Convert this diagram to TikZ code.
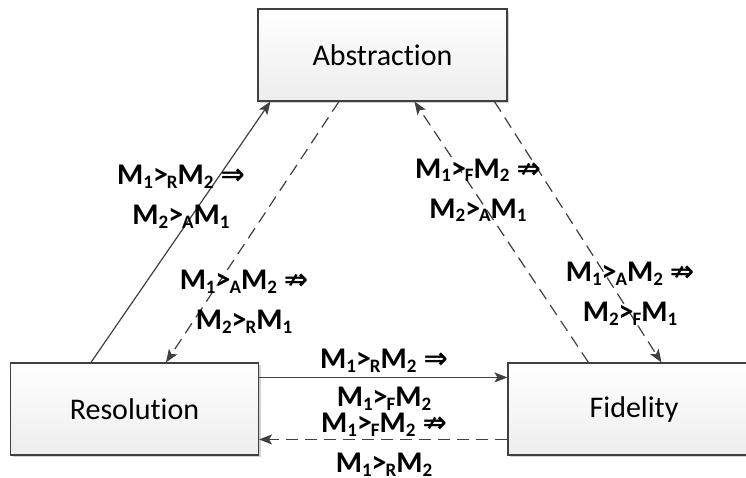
\documentclass[tikz,border=0pt]{standalone}
\usepackage{fontspec}
\setmainfont[Ligatures=NoCommon]{Carlito}
\newfontfamily\arrowfont{DejaVu Sans}
\usetikzlibrary{arrows.meta,shadows,calc}
\newcommand\sbs[1]{\raisebox{-3.5pt}{\fontsize{19}{19}\selectfont #1}}
\newcommand\Mrel[3]{M\sbs{#1}>\kern-1pt\sbs{#2}M\sbs{#3}}
\newcommand\impl{\hspace{7pt}{\arrowfont\bfseries\fontsize{29}{29}\selectfont ⇒}}
\newcommand\nimpl{\hspace{7pt}{\arrowfont\bfseries\fontsize{29}{29}\selectfont ⇏}}
\definecolor{linegray}{HTML}{404040}
\begin{document}
\begin{tikzpicture}[x=1pt,y=1pt,
  box/.style={draw=linegray, line width=1.1pt, top color=white, bottom color=gray!14,
    minimum height=92pt, inner sep=0pt, font=\fontsize{30}{32}\selectfont,
    drop shadow={shadow xshift=2pt, shadow yshift=-2pt, opacity=0.35, fill=gray}},
  conn/.style={draw=linegray, line width=1.2pt, -{Stealth[length=13pt,width=10pt,inset=3pt]}},
  dconn/.style={conn, dash pattern=on 12pt off 7pt},
  lab/.style={align=center, inner sep=0pt, font=\bfseries\fontsize{30}{40}\selectfont}]
\useasboundingbox (0,0) rectangle (746,-478);
\fill[white] (0,0) rectangle (746,-478);

\node[box, minimum width=249pt] (abs) at (382.5,-55) {Abstraction};
\node[box, minimum width=248pt] (res) at (134.5,-409) {Resolution};
\node[box, minimum width=252pt] (fid) at (634,-409) {Fidelity};

\draw[conn] ([xshift=81pt]res.north west) -- ([xshift=13pt]abs.south west);
\draw[dconn] ([xshift=81.5pt]abs.south west) -- ([xshift=156pt]res.north west);
\draw[dconn] ([xshift=81pt]fid.north west) -- ([xshift=157pt]abs.south west);
\draw[dconn] ([xshift=237pt]abs.south west) -- ([xshift=154pt]fid.north west);
\draw[conn] ([yshift=-15pt]res.north east) -- ([yshift=-15pt]fid.north west);
\draw[dconn] ([yshift=-77pt]fid.north west) -- ([yshift=-77pt]res.north east);

\node[lab] (l1) at (181,-197) {\Mrel{1}{R}{2}\impl\\ \Mrel{2}{A}{1}};
\node[lab] (l2) at (244,-302) {\Mrel{1}{A}{2}\nimpl\\ \Mrel{2}{R}{1}};
\node[lab] (l3) at (478,-190.5) {\Mrel{1}{F}{2}\nimpl\\ \Mrel{2}{A}{1}};
\node[lab] (l4) at (630,-294) {\Mrel{1}{A}{2}\nimpl\\ \Mrel{2}{F}{1}};
\node[lab, font=\bfseries\fontsize{30}{38}\selectfont] (l5) at (384,-380) {\Mrel{1}{R}{2}\impl\\ \Mrel{1}{F}{2}};
\node[lab] (l6) at (384,-445) {\Mrel{1}{F}{2}\nimpl\\ \Mrel{1}{R}{2}};
\end{tikzpicture}
\end{document}
